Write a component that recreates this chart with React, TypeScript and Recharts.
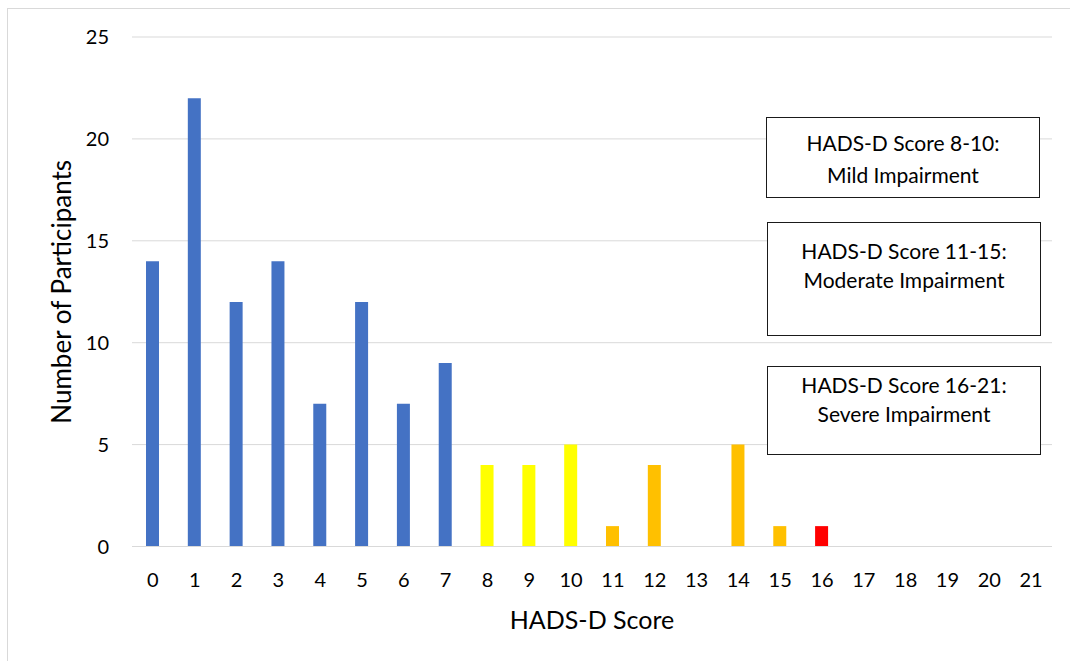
import { BarChart, Bar, XAxis, YAxis, CartesianGrid, Cell, Label } from "recharts";

// HADS-D score distribution
const scores = ["0", "1", "2", "3", "4", "5", "6", "7", "8", "9", "10", "11", "12", "13", "14", "15", "16", "17", "18", "19", "20", "21"];
const participants = [14, 22, 12, 14, 7, 12, 7, 9, 4, 4, 5, 1, 4, 0, 5, 1, 1, 0, 0, 0, 0, 0];
const yTicks = [0, 5, 10, 15, 20, 25];

const bandNotes = [
  ["HADS-D Score 8-10:", "Mild Impairment"],
  ["HADS-D Score 11-15:", "Moderate Impairment"],
  ["HADS-D Score 16-21:", "Severe Impairment"],
];

const FONT = "Lato, 'Open Sans', sans-serif";

// colour by severity band
const bandColor = (score: number) => {
  if (score >= 16) return "#FF0000";
  if (score >= 11) return "#FFC000";
  if (score >= 8) return "#FFFF00";
  return "#4472C4";
};

const chartData = scores.map((s, i) => ({ score: s, count: participants[i] }));

const YTitle = ({ viewBox }: any) => {
  const { x, y, height } = viewBox;
  const cx = x + 61;
  const cy = y + height / 2;
  return (
    <text x={cx} y={cy} transform={`rotate(-90, ${cx}, ${cy})`} textAnchor="middle" dominantBaseline="central" fontSize={26} fill="#000" fontFamily={FONT}>
      Number of Participants
    </text>
  );
};

const XTitle = ({ viewBox }: any) => {
  const { x, y, width } = viewBox;
  return (
    <text x={x + width / 2} y={y + 82} textAnchor="middle" fontSize={25} fill="#000" fontFamily={FONT}>
      HADS-D Score
    </text>
  );
};

const boxStyle: React.CSSProperties = {
  position: "absolute",
  border: "1.5px solid #1a1a1a",
  background: "#fff",
  boxSizing: "border-box",
  fontFamily: FONT,
  fontSize: 21,
  color: "#000",
  textAlign: "center",
};

export default function App() {
  return (
    <div style={{ position: "absolute", left: 0, top: 0, width: 1070, height: 661, overflow: "hidden", background: "#fff" }}>
      <div style={{ position: "absolute", left: 7, top: 8, width: 1100, height: 700, border: "1px solid #d9d9d9" }} />
      <BarChart width={1070} height={661} data={chartData} margin={{ top: 37, right: 18, bottom: 0, left: 0 }} style={{ position: "absolute", left: 0, top: 0 }}>
        <CartesianGrid vertical={false} stroke="#d9d9d9" />
        <XAxis
          dataKey="score"
          height={114.5}
          tickSize={0}
          tickMargin={26}
          axisLine={{ stroke: "#d9d9d9" }}
          tick={{ fontSize: 20, fill: "#000", fontFamily: FONT }}
          interval={0}
        >
          <Label content={<XTitle />} />
        </XAxis>
        <YAxis
          width={132}
          domain={[0, 25]}
          ticks={yTicks}
          tickSize={0}
          tickMargin={23}
          axisLine={false}
          tick={{ fontSize: 20, fill: "#000", fontFamily: FONT }}
        >
          <Label content={<YTitle />} />
        </YAxis>
        <Bar dataKey="count" barSize={13} isAnimationActive={false}>
          {chartData.map((d) => (
            <Cell key={d.score} fill={bandColor(Number(d.score))} />
          ))}
        </Bar>
      </BarChart>

      <div style={{ ...boxStyle, left: 766, top: 117, width: 274, height: 81, paddingTop: 9, lineHeight: "32px" }}>
        <div>{bandNotes[0][0]}</div>
        <div>{bandNotes[0][1]}</div>
      </div>
      <div style={{ ...boxStyle, left: 767, top: 222, width: 274, height: 114, paddingTop: 13, lineHeight: "29px" }}>
        <div>{bandNotes[1][0]}</div>
        <div>{bandNotes[1][1]}</div>
      </div>
      <div style={{ ...boxStyle, left: 767, top: 366, width: 274, height: 89, paddingTop: 3, lineHeight: "29px" }}>
        <div>{bandNotes[2][0]}</div>
        <div>{bandNotes[2][1]}</div>
      </div>
    </div>
  );
}
